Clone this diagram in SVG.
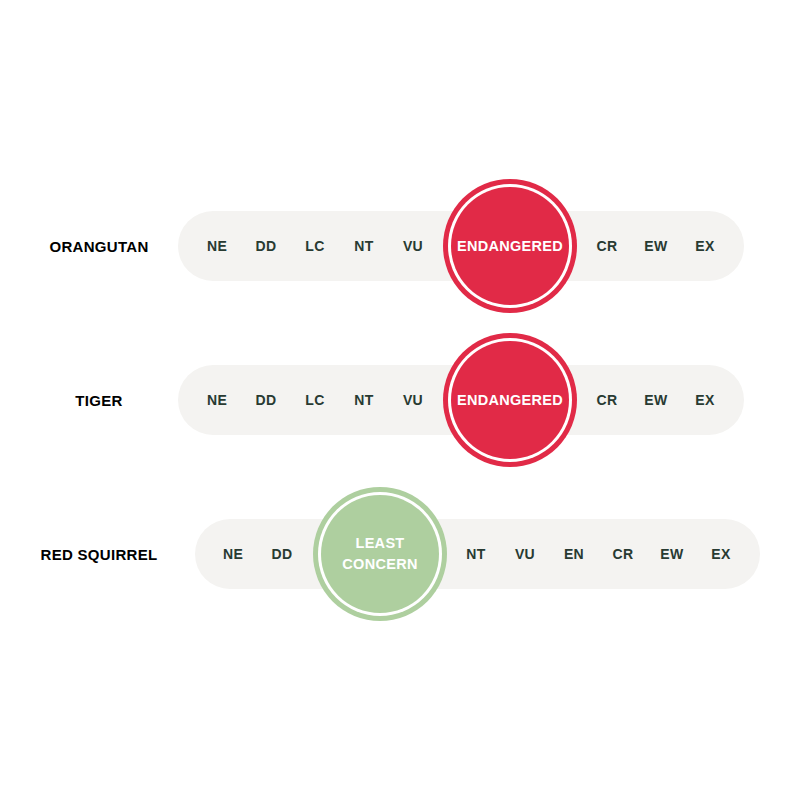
<svg xmlns="http://www.w3.org/2000/svg" width="800" height="800" viewBox="0 0 800 800">
<defs>
<style>
.pill{fill:#f4f3f1}
.code{font-family:"Liberation Sans",Arial,sans-serif;font-weight:bold;font-size:14px;fill:#283a32;text-anchor:middle;dominant-baseline:central;letter-spacing:0.4px}
.name{font-family:"Liberation Sans",Arial,sans-serif;font-weight:bold;font-size:15px;fill:#000;text-anchor:middle;dominant-baseline:central;letter-spacing:0.3px}
.badge{font-family:"Liberation Sans",Arial,sans-serif;font-weight:bold;font-size:14.5px;fill:#fff;text-anchor:middle;dominant-baseline:central;letter-spacing:0.3px}
.ring{fill:#fff}
.red{fill:#e12a47}
.green{fill:#aecf9f}
</style>
</defs>
<rect width="800" height="800" fill="#fff"/>
<g id="orangutan">
<text class="name" x="99" y="246">ORANGUTAN</text>
<rect class="pill" x="178" y="211" width="566" height="70" rx="35"/>
<text class="code" x="217" y="246">NE</text>
<text class="code" x="266" y="246">DD</text>
<text class="code" x="315" y="246">LC</text>
<text class="code" x="364" y="246">NT</text>
<text class="code" x="413" y="246">VU</text>
<circle class="red" cx="510" cy="246" r="67"/>
<circle class="ring" cx="510" cy="246" r="62"/>
<circle class="red" cx="510" cy="246" r="59"/>
<text class="badge" x="510" y="246">ENDANGERED</text>
<text class="code" x="607" y="246">CR</text>
<text class="code" x="656" y="246">EW</text>
<text class="code" x="705" y="246">EX</text>
</g>
<g id="tiger">
<text class="name" x="99" y="400">TIGER</text>
<rect class="pill" x="178" y="365" width="566" height="70" rx="35"/>
<text class="code" x="217" y="400">NE</text>
<text class="code" x="266" y="400">DD</text>
<text class="code" x="315" y="400">LC</text>
<text class="code" x="364" y="400">NT</text>
<text class="code" x="413" y="400">VU</text>
<circle class="red" cx="510" cy="400" r="67"/>
<circle class="ring" cx="510" cy="400" r="62"/>
<circle class="red" cx="510" cy="400" r="59"/>
<text class="badge" x="510" y="400">ENDANGERED</text>
<text class="code" x="607" y="400">CR</text>
<text class="code" x="656" y="400">EW</text>
<text class="code" x="705" y="400">EX</text>
</g>
<g id="red-squirrel">
<text class="name" x="99" y="554">RED SQUIRREL</text>
<rect class="pill" x="195" y="519" width="565" height="70" rx="35"/>
<text class="code" x="233" y="554">NE</text>
<text class="code" x="282" y="554">DD</text>
<circle class="green" cx="380" cy="554" r="67"/>
<circle class="ring" cx="380" cy="554" r="62"/>
<circle class="green" cx="380" cy="554" r="59"/>
<text class="badge" x="380" y="543">LEAST</text>
<text class="badge" x="380" y="564">CONCERN</text>
<text class="code" x="476" y="554">NT</text>
<text class="code" x="525" y="554">VU</text>
<text class="code" x="574" y="554">EN</text>
<text class="code" x="623" y="554">CR</text>
<text class="code" x="672" y="554">EW</text>
<text class="code" x="721" y="554">EX</text>
</g>
<g id="connectors"/>
</svg>
